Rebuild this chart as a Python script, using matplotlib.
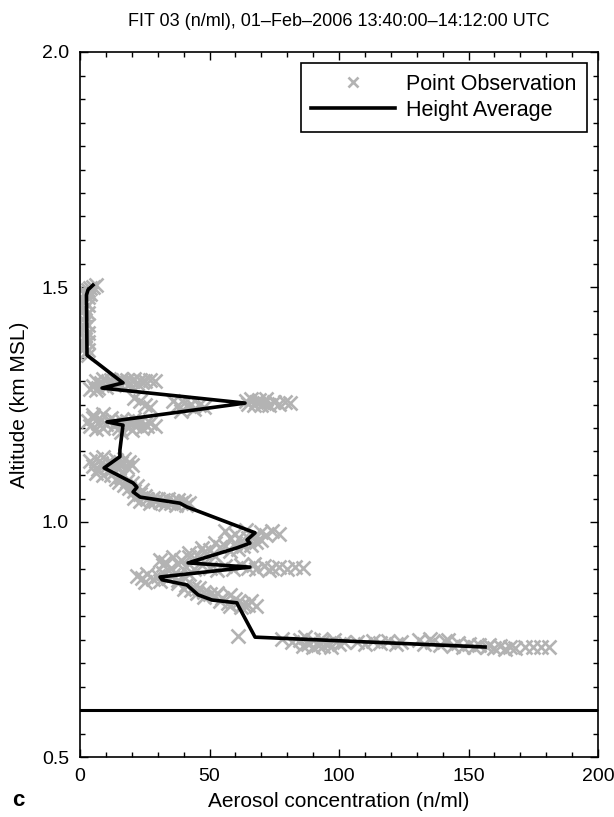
import numpy as np
import matplotlib
matplotlib.use('Agg')
import matplotlib.pyplot as plt
from matplotlib.ticker import MultipleLocator

plt.rcParams['font.family'] = ['Liberation Sans', 'DejaVu Sans']

obs_conc = [
    # top column 1.35-1.50
    6, 5, 4, 3, 2, 4, 2, 3, 1, 2, 3, 2, 1, 3, 2, 1, 2, 3, 2, 1, 3, 2, 2, 3, 1, 2, 3, 2, 3,
    # ~1.29-1.30
    5, 6, 7, 8, 9, 10, 11, 12, 13, 14, 15, 16, 17, 18, 19, 20, 21, 22, 23, 24, 25, 27, 29, 4, 6,
    # ~1.25
    21, 23, 25, 27, 36, 38, 40, 42, 44, 46, 48, 39, 43,
    64, 65, 66, 67, 68, 69, 70, 71, 72, 73, 75, 77, 79, 81,
    # ~1.20-1.22
    3, 4, 5, 6, 7, 8, 9, 10, 11, 12, 13, 14, 15, 16, 17, 18, 19, 20, 21, 22, 23, 24, 25, 26, 27, 29, 5, 9, 16, 20,
    # ~1.11-1.14
    4, 5, 6, 7, 8, 9, 10, 11, 12, 13, 14, 15, 16, 17, 18, 19, 20, 6, 9,
    # 1.03-1.10
    12, 14, 15, 16, 17, 18, 19, 20, 21, 22, 23, 24, 21, 23, 25, 26, 27, 28, 29, 30, 31, 32,
    33, 34, 35, 36, 37, 38, 39, 40, 41, 42,
    # 0.91-0.98
    56, 60, 64, 67, 70, 72, 74, 77, 58, 62, 65, 68, 70, 52, 56, 60, 63, 66, 47, 50, 54, 58, 61,
    42, 45, 48, 52, 36, 39, 42, 33, 31,
    # ~0.90
    32, 35, 38, 41, 44, 47, 50, 53, 56, 59, 62, 65, 68, 71, 74, 77, 80, 83, 86, 73, 67,
    # ~0.875-0.89
    22, 24, 26, 28, 30, 32, 34, 36, 38, 40, 42, 25, 31,
    # 0.82-0.87
    38, 41, 44, 40, 43, 46, 48, 45, 50, 53, 48, 52, 55, 58, 60, 54, 57, 61, 63, 66, 58, 62, 65, 68,
    # isolated
    61,
    # 0.73-0.76
    78, 82, 85, 88, 90, 92, 94, 96, 98, 100, 102, 86, 90, 94, 97, 87, 93,
    107, 110, 113, 116, 119, 122, 124,
    131, 133, 136, 139, 141, 144, 146, 148, 150, 152, 154, 157, 135, 142,
    158, 160, 162, 164, 166, 168, 172, 175, 178, 181,
]
obs_alt = [
    1.505, 1.500, 1.497, 1.493, 1.490, 1.486, 1.482, 1.478, 1.473, 1.468, 1.462, 1.456, 1.450, 1.444,
    1.438, 1.432, 1.426, 1.420, 1.414, 1.408, 1.402, 1.396, 1.390, 1.384, 1.378, 1.372, 1.366, 1.360, 1.355,
    1.290, 1.300, 1.285, 1.295, 1.305, 1.288, 1.298, 1.302, 1.292, 1.300, 1.296, 1.304, 1.298, 1.302,
    1.294, 1.300, 1.304, 1.296, 1.302, 1.298, 1.300, 1.302, 1.300, 1.283, 1.280,
    1.264, 1.258, 1.248, 1.245, 1.258, 1.250, 1.254, 1.246, 1.240, 1.248, 1.244, 1.236, 1.252,
    1.258, 1.252, 1.262, 1.248, 1.256, 1.260, 1.250, 1.254, 1.262, 1.248, 1.256, 1.252, 1.256, 1.254,
    1.215, 1.205, 1.222, 1.198, 1.210, 1.218, 1.200, 1.208, 1.215, 1.222, 1.205, 1.212, 1.200, 1.218,
    1.208, 1.214, 1.202, 1.210, 1.220, 1.206, 1.212, 1.200, 1.208, 1.204, 1.210, 1.205, 1.228, 1.230, 1.192, 1.195,
    1.130, 1.120, 1.135, 1.112, 1.125, 1.138, 1.118, 1.128, 1.110, 1.122, 1.132, 1.115, 1.126, 1.134,
    1.118, 1.128, 1.122, 1.105, 1.100,
    1.100, 1.092, 1.085, 1.095, 1.078, 1.088, 1.072, 1.082, 1.066, 1.076, 1.060, 1.068, 1.052, 1.045,
    1.056, 1.048, 1.040, 1.052, 1.044, 1.050, 1.042, 1.046, 1.038, 1.048, 1.040, 1.044, 1.036, 1.046,
    1.040, 1.044, 1.036, 1.040,
    0.980, 0.975, 0.982, 0.970, 0.978, 0.972, 0.980, 0.975, 0.965, 0.960, 0.966, 0.958, 0.962, 0.955,
    0.950, 0.956, 0.948, 0.952, 0.945, 0.940, 0.946, 0.938, 0.942, 0.935, 0.930, 0.936, 0.928, 0.925,
    0.920, 0.926, 0.915, 0.920,
    0.908, 0.902, 0.910, 0.904, 0.900, 0.908, 0.903, 0.898, 0.906, 0.901, 0.908, 0.903, 0.899, 0.906,
    0.902, 0.905, 0.900, 0.904, 0.902, 0.898, 0.910,
    0.885, 0.880, 0.890, 0.878, 0.886, 0.892, 0.880, 0.888, 0.876, 0.884, 0.890, 0.872, 0.874,
    0.870, 0.866, 0.862, 0.858, 0.855, 0.860, 0.852, 0.848, 0.846, 0.850, 0.840, 0.842, 0.838, 0.844,
    0.836, 0.832, 0.828, 0.830, 0.826, 0.832, 0.822, 0.820, 0.824, 0.822,
    0.757,
    0.752, 0.745, 0.750, 0.740, 0.748, 0.738, 0.746, 0.742, 0.750, 0.740, 0.745, 0.736, 0.734, 0.736,
    0.734, 0.755, 0.752,
    0.745, 0.740, 0.746, 0.742, 0.746, 0.741, 0.744,
    0.748, 0.740, 0.745, 0.738, 0.746, 0.736, 0.742, 0.734, 0.740, 0.733, 0.738, 0.735, 0.752, 0.750,
    0.738, 0.732, 0.736, 0.730, 0.734, 0.732, 0.735, 0.733, 0.735, 0.733,
]

# Height-averaged profile
avg_conc = [5.0, 3.1, 2.5, 2.7, 16.6, 8.5, 63.7, 10.4, 16.6, 15.4, 15.4, 9.3, 20.5, 22.0, 20.5,
            23.2, 38.6, 41.3, 67.6, 64.5, 65.6, 60.6, 41.7, 65.6, 30.9, 31.7, 41.3, 45.6, 51.0,
            60.6, 61.0, 67.6, 156.4]
avg_alt = [1.504, 1.494, 1.483, 1.355, 1.296, 1.285, 1.253, 1.213, 1.206, 1.153, 1.139, 1.115,
           1.083, 1.074, 1.064, 1.053, 1.040, 1.032, 0.977, 0.962, 0.955, 0.945, 0.913, 0.904,
           0.883, 0.877, 0.866, 0.845, 0.834, 0.828, 0.823, 0.755, 0.734]

ground_alt = 0.6

fig = plt.figure(figsize=(6.14, 8.17), dpi=100)
ax = fig.add_axes([80 / 614, 60 / 817, 518 / 614, 705 / 817])

ax.plot(obs_conc, obs_alt, 'x', color='#b3b3b3', markersize=9.5, mew=1.9, label='Point Observation')
ax.plot(avg_conc, avg_alt, '-', color='black', lw=2.6, label='Height Average')
ax.axhline(ground_alt, color='black', lw=2.2)

ax.set_xlim(0, 200)
ax.set_ylim(0.5, 2.0)
ax.xaxis.set_major_locator(MultipleLocator(50))
ax.xaxis.set_minor_locator(MultipleLocator(10))
ax.yaxis.set_major_locator(MultipleLocator(0.5))
ax.yaxis.set_minor_locator(MultipleLocator(0.05))
ax.yaxis.set_major_formatter(matplotlib.ticker.FormatStrFormatter('%.1f'))
ax.tick_params(which='both', direction='in', top=True, right=True, labelsize=14, width=1)
ax.tick_params(which='major', length=6, pad=8)
ax.tick_params(which='minor', length=3.5)
for s in ax.spines.values():
    s.set_linewidth(1.2)

ax.set_xlabel('Aerosol concentration (n/ml)', fontsize=15, labelpad=5)
ax.set_ylabel('Altitude (km MSL)', fontsize=15, labelpad=9)
ax.set_title('FIT 03 (n/ml), 01\u2013Feb\u20132006 13:40:00\u201314:12:00 UTC', fontsize=13, pad=19)

leg = ax.legend(loc='upper right', fontsize=15.5, fancybox=False, edgecolor='black',
                handlelength=3.9, borderaxespad=0.5, framealpha=1, borderpad=0.5,
                labelspacing=0.25, handletextpad=0.5, markerscale=0.75)
leg.get_frame().set_linewidth(1.2)

fig.text(12 / 614, 1 - 800 / 817, 'c', fontsize=16, fontweight='bold', va='center')

plt.savefig('out.png', dpi=100)
